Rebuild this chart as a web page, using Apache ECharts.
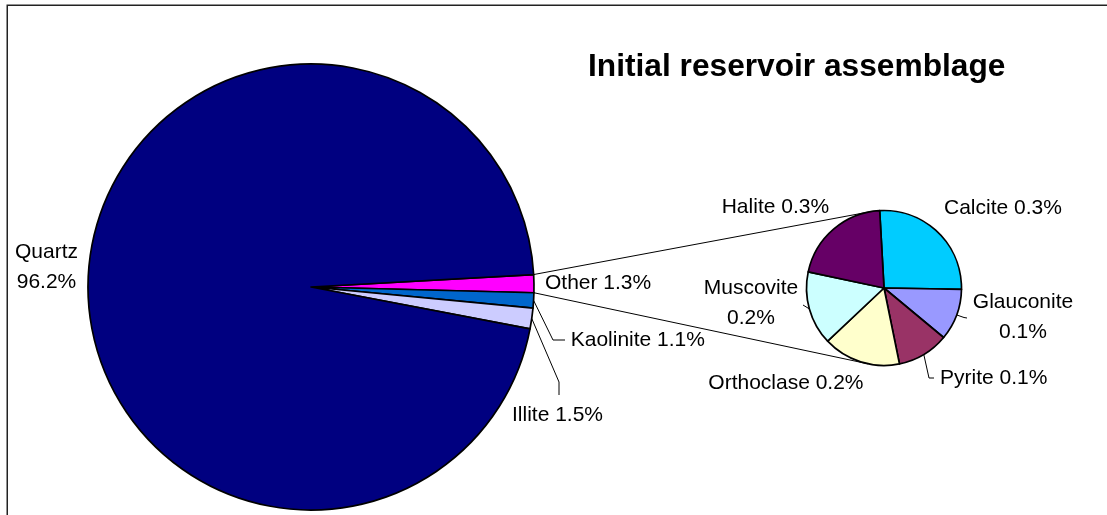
<!DOCTYPE html>
<html><head><meta charset="utf-8">
<script src="https://cdn.jsdelivr.net/npm/echarts@6/dist/echarts.min.js"></script>
<style>html,body{margin:0;padding:0;background:#fff}#c{width:1107px;height:515px}</style>
</head><body><div id="c"></div>
<script>
// ---- data ----
const titleText = 'Initial reservoir assemblage';
const mainNames = ['Other', 'Kaolinite', 'Illite', 'Quartz'];
const mainValues = [1.3, 1.1, 1.5, 96.2];
const subNames = ['Calcite', 'Glauconite', 'Pyrite', 'Orthoclase', 'Muscovite', 'Halite'];
const subValues = [0.34, 0.14, 0.14, 0.21, 0.20, 0.27];

// ---- styles ----
const mainColors = ['#FF00FF', '#0066CC', '#CCCCFF', '#000080'];
const subColors = ['#00CCFF', '#9999FF', '#993366', '#FFFFCC', '#CCFFFF', '#660066'];
const FONT = 'Arial, "Liberation Sans", sans-serif';
const MAIN_C = [311, 287], MAIN_R = 223, MAIN_START = 3.2;
const SUB_C = [884, 288], SUB_R = 77.5, SUB_START = 93.2;
const twoLine = new Set(['Quartz', 'Glauconite', 'Muscovite']);
const labelPlace = {
  Quartz: {x: 46.5, y: 267.5, align: 'center'},
  Other: {x: 545, y: 283},
  Kaolinite: {x: 570.7, y: 340, leader: [[553, 340], [565, 340]]},
  Illite: {x: 512, y: 415, leader: [[559, 382], [559, 395]]},
  Calcite: {x: 944, y: 208.5},
  Glauconite: {x: 1023, y: 317, align: 'center', leader: [[964, 317.5], [967, 318]]},
  Pyrite: {x: 940, y: 378.5, leader: [[929, 378], [934, 378]]},
  Orthoclase: {x: 708.3, y: 383.5},
  Muscovite: {x: 751, y: 303, align: 'center', leader: [[803, 305]]},
  Halite: {x: 721.7, y: 207.5}
};

function fmt(p) {
  return p.name + (twoLine.has(p.name) ? '\n' : ' ') + Number(p.value).toFixed(1) + '%';
}
function layoutFn(names) {
  return function (params) {
    const pl = labelPlace[names[params.dataIndex]];
    const out = {x: pl.x, y: pl.y, align: pl.align || 'left', verticalAlign: 'middle'};
    if (pl.leader && params.labelLinePoints) {
      out.labelLinePoints = [params.labelLinePoints[0]].concat(pl.leader);
    }
    return out;
  };
}

// connector lines from the "Other" slice edges to tangents of the secondary pie
const mainTotal = mainValues.reduce((a, b) => a + b, 0);
const otherIdx = mainNames.indexOf('Other');
let acc = 0;
for (let i = 0; i < otherIdx; i++) acc += mainValues[i];
const a0 = MAIN_START - acc / mainTotal * 360;
const a1 = a0 - mainValues[otherIdx] / mainTotal * 360;
function edge(a) {
  const r = a * Math.PI / 180;
  return [MAIN_C[0] + MAIN_R * Math.cos(r), MAIN_C[1] - MAIN_R * Math.sin(r)];
}
function tangent(P, upper) {
  const dx = SUB_C[0] - P[0], dy = SUB_C[1] - P[1];
  const d = Math.hypot(dx, dy);
  const th = Math.atan2(dy, dx);
  const al = Math.asin(SUB_R / d);
  const L = Math.sqrt(d * d - SUB_R * SUB_R);
  const t = upper ? th - al : th + al;
  return [P[0] + L * Math.cos(t), P[1] + L * Math.sin(t)];
}
const P1 = edge(a0), P2 = edge(a1);
const T1 = tangent(P1, true), T2 = tangent(P2, false);

const labelCommon = {show: true, position: 'outside', formatter: fmt, color: '#000',
  fontSize: 21, fontFamily: FONT, lineHeight: 30};
const labelLineCommon = {show: true, length: 5, length2: 5, smooth: false,
  lineStyle: {color: '#000', width: 1}};

const chart = echarts.init(document.getElementById('c'), null, {renderer: 'canvas'});
chart.setOption({
  animation: false,
  backgroundColor: '#fff',
  title: {text: titleText, left: 588, top: 51.5, padding: 0,
    textStyle: {fontSize: 31.7, fontWeight: 'bold', color: '#000', fontFamily: FONT}},
  graphic: [
    {type: 'rect', shape: {x: 7.25, y: 5.25, width: 1300, height: 700},
      style: {fill: 'none', stroke: '#222', lineWidth: 1.5}, silent: true, z: 0},
    {type: 'line', shape: {x1: P1[0], y1: P1[1], x2: T1[0], y2: T1[1]},
      style: {stroke: '#000', lineWidth: 1}, silent: true, z: 1},
    {type: 'line', shape: {x1: P2[0], y1: P2[1], x2: T2[0], y2: T2[1]},
      style: {stroke: '#000', lineWidth: 1}, silent: true, z: 1}
  ],
  series: [
    {
      type: 'pie', center: MAIN_C, radius: MAIN_R, startAngle: MAIN_START, clockwise: true,
      avoidLabelOverlap: false, silent: true,
      data: mainNames.map((n, i) => ({name: n, value: mainValues[i],
        itemStyle: {color: mainColors[i]}, labelLine: {show: !!labelPlace[n].leader}})),
      itemStyle: {borderColor: '#000', borderWidth: 1.7},
      label: labelCommon, labelLine: labelLineCommon,
      labelLayout: layoutFn(mainNames),
      emphasis: {disabled: true}
    },
    {
      type: 'pie', center: SUB_C, radius: SUB_R, startAngle: SUB_START, clockwise: true,
      avoidLabelOverlap: false, silent: true,
      data: subNames.map((n, i) => ({name: n, value: subValues[i],
        itemStyle: {color: subColors[i]}, labelLine: {show: !!labelPlace[n].leader}})),
      itemStyle: {borderColor: '#000', borderWidth: 1.7},
      label: labelCommon, labelLine: labelLineCommon,
      labelLayout: layoutFn(subNames),
      emphasis: {disabled: true}
    }
  ]
});
</script>
</body></html>
